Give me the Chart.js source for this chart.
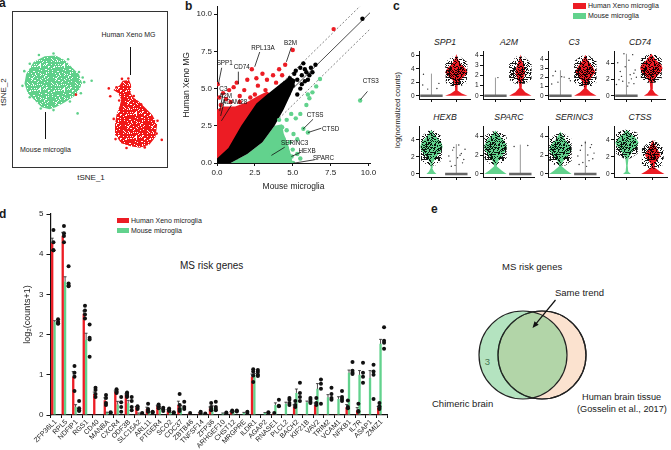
<!DOCTYPE html>
<html>
<head>
<meta charset="utf-8">
<script src="https://cdn.jsdelivr.net/npm/chart.js@4.4.0/dist/chart.umd.min.js"></script>
<style>
body { margin: 0; background: #fff; }
#fig { position: relative; width: 671px; height: 450px; overflow: hidden; font-family: 'Liberation Sans', Arial, sans-serif; color: #1a1a1a; }
.t { position: absolute; white-space: nowrap; line-height: 1; }
.c { transform: translate(-50%, -50%); }
.v { transform: translate(-50%, -50%) rotate(-90deg); }
.L { font-weight: bold; font-size: 12px; }
.i { font-style: italic; font-size: 8.7px; }
.ln { position: absolute; background: #111; }
.sw { position: absolute; }
canvas { position: absolute; }
</style>
</head>
<body>
<div id="fig">
  <!-- panel letters -->
  <div class="t L" style="left:-1px;top:-3px">a</div>
  <div class="t L" style="left:185px;top:0px">b</div>
  <div class="t L" style="left:393px;top:0px">c</div>
  <div class="t L" style="left:-1px;top:208px">d</div>
  <div class="t L" style="left:431px;top:203px">e</div>

  <!-- panel a -->
  <div style="position:absolute;left:12px;top:11px;width:154px;height:155px;border:1.3px solid #333"></div>
  <div class="t v" style="left:4px;top:92px;font-size:8px">tSNE_2</div>
  <div class="t c" style="left:91px;top:177.5px;font-size:8px">tSNE_1</div>
  <div class="t c" style="left:128.5px;top:33.5px;font-size:7px">Human Xeno MG</div>
  <div class="ln" style="left:130px;top:47px;width:1.4px;height:28px"></div>
  <div class="t c" style="left:45.5px;top:148.5px;font-size:7px">Mouse microglia</div>
  <div class="ln" style="left:44.5px;top:112px;width:1.4px;height:27px"></div>

  <!-- panel c -->
  <div class="sw" style="left:573px;top:3px;width:13px;height:5.5px;background:#ec1c24"></div>
  <div class="t" style="left:588px;top:2.3px;font-size:7px">Human Xeno microglia</div>
  <div class="sw" style="left:573px;top:13px;width:13px;height:5.5px;background:#62d28d"></div>
  <div class="t" style="left:588px;top:12.3px;font-size:7px">Mouse microglia</div>
  <div class="t v" style="left:398px;top:110px;font-size:7.5px">log(normalized counts)</div>
  <div class="t c i" style="left:445px;top:42px">SPP1</div>
  <div class="t c i" style="left:509px;top:42px">A2M</div>
  <div class="t c i" style="left:574px;top:42px">C3</div>
  <div class="t c i" style="left:640px;top:42px">CD74</div>
  <div class="t c i" style="left:445px;top:117px">HEXB</div>
  <div class="t c i" style="left:509px;top:117px">SPARC</div>
  <div class="t c i" style="left:574px;top:117px">SERINC3</div>
  <div class="t c i" style="left:640px;top:117px">CTSS</div>

  <!-- panel d -->
  <div class="sw" style="left:117px;top:218px;width:11.5px;height:5px;background:#ec1c24"></div>
  <div class="t" style="left:131px;top:217px;font-size:7px">Human Xeno microglia</div>
  <div class="sw" style="left:117px;top:228px;width:11.5px;height:5px;background:#62d28d"></div>
  <div class="t" style="left:131px;top:227px;font-size:7px">Mouse microglia</div>
  <div class="t" style="left:180px;top:261px;font-size:10px">MS risk genes</div>

  <!-- panel e -->
  <div class="t" style="left:502px;top:261.5px;font-size:9.5px">MS risk genes</div>
  <div class="t" style="left:555px;top:288px;font-size:9.5px">Same trend</div>
  <div class="t c" style="left:487.5px;top:361.5px;font-size:9.5px">3</div>
  <div class="t c" style="left:535px;top:358.5px;font-size:9.5px">29</div>
  <div class="t c" style="left:576.5px;top:357.5px;font-size:9.5px">3</div>
  <div class="t" style="left:432px;top:399px;font-size:9.5px">Chimeric brain</div>
  <div class="t" style="left:582px;top:393px;font-size:9.2px">Human brain tissue</div>
  <div class="t" style="left:577px;top:404.5px;font-size:9.2px">(Gosselin et al., 2017)</div>
</div>

<script>
// ---------- panel a: tSNE cluster outlines and stray cells ----------
const mouseCluster = [[-35,8.3],[-30.8,15.1],[-24.8,18.1],[-18.8,18.5],[-13.7,15.9],[-9.4,11.6],[-6,8.3],[-4.3,3.2],[-6,-0.3],[-8.6,-3.7],[-13.7,-7],[-18.8,-9.6],[-22.2,-10.8],[-26.5,-9.6],[-30.8,-5.4],[-34.2,-1.9],[-35.9,3.2],[-35,8.3]];
const humanCluster = [[17.9,4.8],[21.4,5.2],[22.6,2.3],[22.2,-1.9],[23.9,-4.5],[26.5,-6.2],[30.8,-10.5],[34.2,-13.9],[36.8,-19],[35.9,-25.8],[32.5,-30],[27.3,-31.7],[22.2,-30.9],[17.1,-29.2],[14,-24.9],[13.7,-19],[14.5,-13.9],[16.3,-8.8],[17.1,-5.4],[15.4,-1.9],[12.8,-0.3],[16.3,2.3],[17.9,4.8]];
const mouseCells = [[-36,10],[-33,14],[-28,18.8],[-20,19.6],[-12,16.5],[-6,9.5],[-3.2,4],[-5,-2],[-11,-6.5],[-20,-11.2],[-27,-10.3],[-33,-4.2],[-37,2],[0.9,4.8],[-6.8,-13],[-4,6.5]];
const humanCells = [[17.5,5.8],[21,6],[14.5,1.2],[10.3,0.6],[11.1,-3.7],[39.3,-27.4],[37,-17],[36.5,-24],[30,-31.5],[20,-31.8],[14,-27],[13,-16],[16,-6],[-7.7,-2.8],[24,-3.5],[28,-8]];

// ---------- panel b: Human Xeno MG vs mouse microglia ----------
const diag = [0, 10.5];
const foldBand = 1.1;
const bRedCloud = [[0,0],[0,3.6],[0.4,3.8],[1.2,3.8],[2,4.1],[2.7,4.5],[3.3,4.8],[3.6,4.6],[2,2.5],[0,0]];
const bBlackCloud = [[0,0],[0,0.3],[0.75,1],[1.6,2.5],[2.6,4],[3.3,4.6],[3.8,5],[4.4,5.5],[4.8,5.8],[5.2,5.6],[5,4.9],[4.4,3.6],[3.8,2.5],[3,1.4],[2,0.6],[0.9,0],[0,0]];
const bGreenCloud = [[0.9,0],[2,0.6],[3,1.4],[3.8,2.5],[4.3,2.6],[4.4,2],[4.7,1.2],[4.9,0.5],[5,0],[0.9,0]];
const bRed = [[7.7,9],[5,7.6],[4.5,6.6],[2.3,6.3],[0.05,5.3],[1.3,5.4],[1.1,5.1],[0.8,4.9],[0.4,4.7],[0.15,4.4],[0.6,4.3],[2.6,5.7],[2.7,5.2],[2.5,4.6],[1.8,4.9],[1.5,4.5],[3.3,5.6],[3.7,5.9],[4.1,6.3],[4.3,5.9],[3.9,5.4],[3.2,4.9],[2.2,4.4],[0.9,4.1],[2,5.6],[3,6],[0.25,3.9],[1.5,4.1]];
const bBlack = [[9.6,9.7],[6.5,6.6],[6.2,6.4],[5.9,6.1],[5.6,5.9],[5.3,5.6],[5.8,5.5],[6.1,5.9],[5,5.2],[4.8,5.7],[4.6,5.3],[5.2,6.2],[5.5,6.4],[5.7,6.7],[5.1,6],[5.6,5.3],[6,5.6],[5.5,5],[5.3,4.6],[4.2,5],[3.6,4.1],[4,3.9],[4.7,4.6],[5.8,6.3],[6.3,6.1]];
const bGreen = [[9.45,4.2],[5.05,1.95],[5.7,2.3],[6,2.05],[6.8,5.65],[6.55,5.15],[6.3,4.75],[6.1,4.35],[5.9,3.9],[5.5,3.3],[5.2,3],[4.6,2.9],[4.3,2.4],[4.8,1.4],[5,0.9],[5.3,0.6],[4.93,0.44],[5.02,0],[4.4,1.6],[4.6,2.2],[4.1,2.9],[3.59,0.51],[4.2,0.9],[4.6,1],[4.9,3.3],[6,4.6],[5.3,1.6],[5.5,0.3]];
const bLabelText = ['SPP1','CD74','RPL13A','B2M','C3','A2M','ADAM28','CTSS','CTSD','SERINC3','HEXB','SPARC','CTS3'];
// text x, text y, leader from x,y to x,y
const bLabelPos = [
  [0.51,6.73,0.31,6.4,0.09,5.3],[1.63,6.42,1.41,6.14,1.41,5.3],[3.04,7.68,2.82,7.46,2.49,6.47],[4.85,8.06,4.91,7.79,4.58,6.8],
  [0.42,4.97,0.4,4.7,0.18,3.49],[0.56,4.48,0.51,4.26,0.24,3.16],[1.16,4.09,0.95,3.89,0.29,2.83],[6.48,3.2,6.34,2.94,5.68,2.28],
  [7.5,2.28,6.89,2.34,6.01,2.05],[5.13,1.35,4.47,1.06,3.59,0.51],[5.95,0.77,5.57,0.73,4.91,0.44],[7.03,0.29,6.45,0.22,5.02,-0.02],
  [9.62,5.48,9.93,4.81,9.47,4.26]
];

// ---------- panel c: violins, profile = [value, half width] ----------
const vGenes = ['SPP1','A2M','C3','CD74','HEXB','SPARC','SERINC3','CTSS'];
const vMin = [-0.47,-0.32,-0.35,-0.4,-0.36,-0.33,-0.33,-0.36];
const vMax = [6.6,4.4,4.87,5.5,5.58,5.03,5.03,5.58];
const vStep = [2,1,1,1,1,1,1,1];
const violinHuman = {
  SPP1: [[0,0.45],[0.35,0.22],[0.8,0.05],[1.5,0.05],[2.2,0.12],[2.9,0.32],[3.5,0.45],[4.1,0.36],[4.8,0.16],[5.6,0.05],[6.2,0]],
  A2M: [[0,0.45],[0.35,0.2],[0.8,0.04],[1.3,0.06],[1.8,0.14],[2.3,0.2],[2.9,0.15],[3.5,0.06],[4.1,0]],
  C3: [[0,0.45],[0.35,0.22],[0.8,0.05],[1.4,0.08],[2,0.25],[2.6,0.4],[3.2,0.3],[3.9,0.1],[4.5,0]],
  CD74: [[0,0.3],[0.3,0.15],[0.8,0.04],[1.6,0.06],[2.4,0.22],[3,0.4],[3.4,0.45],[3.8,0.4],[4.4,0.2],[5,0.05],[5.2,0]],
  CTSS: [[0,0.45],[0.35,0.25],[0.8,0.05],[1.2,0.08],[1.7,0.2],[2.2,0.3],[2.7,0.22],[3.3,0.1],[3.9,0.02],[4,0]]
};
const cloudHuman = {
  SPP1: [[1.4,0.15],[1.9,0.42],[5,0.45],[5.8,0.15]],
  A2M: [[1.2,0.2],[1.6,0.45],[3.2,0.45],[3.9,0.15]],
  C3: [[1,0.2],[1.5,0.45],[3.8,0.45],[4.4,0.15]],
  CD74: [[1.6,0.15],[2.2,0.42],[4.6,0.42],[5.2,0.1]],
  CTSS: [[0.6,0.15],[1.1,0.42],[3,0.42],[3.9,0.1]]
};
const violinMouse = {
  HEXB: [[0,0.2],[0.3,0.1],[0.7,0.03],[1.3,0.05],[2,0.2],[2.7,0.4],[3.2,0.45],[3.7,0.4],[4.3,0.22],[4.9,0.06],[5.2,0]],
  SPARC: [[0,0.45],[0.35,0.25],[0.8,0.05],[1.3,0.1],[2,0.3],[2.6,0.44],[3,0.45],[3.5,0.35],[4.1,0.15],[4.6,0]],
  SERINC3: [[0,0.45],[0.35,0.25],[0.8,0.05],[1.3,0.1],[1.9,0.3],[2.5,0.45],[3,0.4],[3.6,0.2],[4.2,0.06],[4.5,0]],
  CTSS: [[0,0.15],[0.3,0.05],[1,0.03],[1.8,0.06],[2.6,0.2],[3.3,0.4],[3.7,0.45],[4.2,0.35],[4.8,0.12],[5.2,0]]
};
const cloudMouse = {
  HEXB: [[1,0.15],[1.6,0.42],[4.4,0.42],[5.1,0.1]],
  SPARC: [[1,0.2],[1.6,0.45],[4,0.45],[4.5,0.12]],
  SERINC3: [[0.9,0.2],[1.4,0.45],[3.7,0.45],[4.3,0.12]],
  CTSS: [[1.8,0.12],[2.4,0.42],[4.8,0.42],[5.2,0.1]]
};
const stemMouse = { SPP1: 3.3, A2M: 1.8, C3: 2.8, CD74: 5.2 };
const stemHuman = { HEXB: 3.5, SPARC: 3.1, SERINC3: 3.5 };
const strayMouse = {
  SPP1: [[-0.32,3.2],[0.22,1.1],[-0.15,1],[0.3,1.85],[-0.35,1.6]],
  A2M: [[0.1,1.8]],
  C3: [[-0.3,2.2],[0.15,2.05],[-0.2,2.7],[0.35,1.9],[-0.35,1.3],[0.4,1.65],[0.05,2.1],[-0.1,1.5]],
  CD74: [[-0.35,4.1],[-0.25,3],[-0.3,2],[-0.15,1.8],[0.1,1.6],[0.2,2.1],[0.3,1.5],[0.1,4.4],[0.25,5.1],[-0.1,5.2],[0.35,3.2],[-0.4,1.4],[0.15,2.6],[-0.2,2.4],[0.05,1.2],[0.3,2.8],[-0.05,3.6],[0.4,2.3]]
};
const strayHuman = {
  HEXB: [[0.7,2.1],[0.75,1.5],[0.85,2.8],[0.95,1],[1.1,3.4],[1.2,2.4],[1.3,1.7],[1.35,2.9],[1.05,1.9],[0.8,0.9],[1.25,1.3],[0.9,3.1],[1.15,2.2]],
  SPARC: [[1.3,3],[0.75,2.9]],
  SERINC3: [[0.7,1.9],[0.8,2.5],[0.9,1.2],[1,3.3],[1.1,2],[1.2,2.8],[1.3,1.6],[1.35,2.2],[0.75,1],[1.05,0.8],[1.25,3.1],[0.85,3],[1.15,1.4]]
};

// ---------- panel d: MS risk genes ----------
const genes = ['ZFP36L1','RPL5','NDFIP1','RGS1','CD40','MANBA','CXCR4','ODF3B','SLC15A2','ARL11','PTGER4','SCO2','CDC37','ZBTB46','TNFSF14','ZFP36','ARHGEF10','CHST12','MRGPRE','ILDR1','AGAP2','RNASE1','PLCL2','BACH2','KIF21B','VAV2','TRIM2','VCAM1','NFKB1','IL7R','ASAP1','ZMIZ1'];
const humanMean = [4.28,4.46,0.95,2.52,0.52,0.37,0.58,0.5,0.19,0.15,0.22,0.12,0.25,0.04,0.04,0.16,0.01,0.07,0.01,0.95,0.01,0.03,0.02,0.21,0.02,0.25,0.02,0.02,0.2,0.12,0.02,0.18];
const mouseMean = [2.32,3.32,0.2,1.87,0.01,0.06,0.26,0.29,0.04,0.07,0.14,0.06,0.18,0.01,0.03,0.18,0.04,0.08,0.05,1,0.05,0.25,0.28,0.55,0.32,0.65,0.44,0.4,1.05,1,0.92,1.77];
const humanReps = [[4.6,4.3,4.1,4.1],[4.7,4.52,4.45,4.3],[1.22,1.05,0.95,0.6],[2.72,2.6,2.5,2.4],[0.68,0.62,0.52,0.45],[0.5,0.42,0.3,0.25],[0.64,0.6,0.57,0.55],[0.56,0.52,0.48,0.45],[0.22,0.18,0.15],[0.28,0.15,0.1,0.08],[0.26,0.22,0.2,0.17],[0.16,0.12,0.1],[0.52,0.25,0.15,0.1],[0.05],[0.08,0.04],[0.3,0.2,0.15,0.12],[],[0.11,0.08],[],[1.14,1.08,0.98,0.82],[],[0.05],[],[0.35,0.25,0.2],[],[0.42,0.3,0.25],[],[],[0.36,0.2,0.17],[0.28,0.1,0.08],[],[0.3,0.22,0.18,0.15]];
const mouseReps = [[2.38,2.32,2.28,2.27],[3.7,3.27,3.22,3.2],[0.35,0.17,0.12,0.1],[2.25,1.92,1.88,1.45],[],[0.07,0.05],[0.45,0.32,0.2,0.08],[0.45,0.35,0.2,0.12],[0.05,0.03],[0.08,0.06],[0.18,0.14,0.1],[0.07,0.05],[0.33,0.2,0.15],[],[0.04],[0.33,0.2,0.15,0.12],[0.06,0.04],[0.11,0.09],[0.08,0.05],[1.12,1.07,1,0.97],[0.07,0.05],[0.38,0.23,0.22],[0.42,0.38,0.3,0.25],[0.8,0.55,0.45,0.35],[0.42,0.38,0.33,0.3],[0.88,0.78,0.65,0.28],[0.68,0.52,0.42,0.38],[0.6,0.45,0.4,0.35],[1.32,1.1,1.05,1.02],[1.3,1.05,0.95,0.8],[1.25,1.08,1,0.4],[2.18,1.85,1.8,1.65]];

// ---------- panel e: Venn ----------
const vennCircles = [{x: 0.2, y: 0, r: 44}, {x: -0.18, y: 0, r: 44}];
const vennArrow = [[0.47, 1.1], [0.01, 0.54]];

// ---------- shared setup ----------
const RED = '#ec1c24';
const GREEN = '#62d28d';
const PEACH = '#fbe2cf';
Chart.defaults.font.family = "'Liberation Sans', Arial, sans-serif";
Chart.defaults.color = '#1a1a1a';
Chart.defaults.animation = false;
Chart.defaults.responsive = false;
Chart.defaults.events = [];
Chart.defaults.plugins.legend.display = false;
Chart.defaults.plugins.tooltip.enabled = false;

const fig = document.getElementById('fig');
function makeCanvas(left, top, w, h) {
    const c = document.createElement('canvas');
    c.width = w; c.height = h;
    c.style.left = left + 'px'; c.style.top = top + 'px';
    c.style.width = w + 'px'; c.style.height = h + 'px';
    fig.appendChild(c);
    return c.getContext('2d');
}
// fixed pixel hash, only used for the grain texture of dense point clouds
function grain(x, y) {
    let h = Math.imul(x, 374761393) + Math.imul(y, 668265263);
    h = Math.imul(h ^ (h >>> 13), 1274126177);
    return ((h ^ (h >>> 16)) >>> 0) / 4294967296;
}
function speckle(size, fg, bg, density) {
    const c = document.createElement('canvas');
    c.width = c.height = size;
    const g = c.getContext('2d');
    if (bg) { g.fillStyle = bg; g.fillRect(0, 0, size, size); }
    g.fillStyle = fg;
    for (let y = 0; y < size; y++) {
        for (let x = 0; x < size; x++) {
            if (grain(x, y) < density) g.fillRect(x, y, 1, 1);
        }
    }
    return g.createPattern(c, 'repeat');
}

const pts = arr => arr.map(([x, y]) => ({x, y}));
function shape(points, color, order) {
    return {type: 'scatter', data: pts(points), showLine: true, fill: 'shape', backgroundColor: color,
        borderColor: 'rgba(0,0,0,0)', borderWidth: 0, pointRadius: 0, order};
}
function dots(points, color, r, order) {
    return {type: 'scatter', data: pts(points), backgroundColor: color, borderWidth: 0, pointRadius: r, order};
}
function line(points, color, w, dash, order) {
    return {type: 'scatter', data: pts(points), showLine: true, fill: false, borderColor: color,
        borderWidth: w, borderDash: dash, pointRadius: 0, order};
}
// mirror a violin profile round its centre
function mirror(cx, prof) {
    return [...prof.map(([y, w]) => [cx + w, y]), ...prof.slice().reverse().map(([y, w]) => [cx - w, y])];
}
const axisStyle = {grid: {drawOnChartArea: false, tickLength: 3, color: '#111'}, border: {color: '#111', width: 1}};

// ---------- panel a ----------
new Chart(makeCanvas(13, 12, 154, 155), {
    type: 'scatter',
    data: {datasets: [
        shape(mouseCluster, speckle(24, '#fff', '#5fd08a', 0.16), 5),
        shape(humanCluster, speckle(24, '#fff', '#f01818', 0.16), 5),
        dots(mouseCells, '#5fd08a', 1.3, 1),
        dots(humanCells, '#f01818', 1.3, 1)
    ]},
    options: {
        layout: {padding: 0},
        scales: {x: {display: false, min: -40, max: 40}, y: {display: false, min: -40, max: 40}}
    }
});

// ---------- panel b ----------
const bLabels = {
    id: 'bLabels',
    afterDatasetsDraw(chart) {
        const {ctx: g, scales: {x, y}} = chart;
        g.save();
        g.font = "6.3px 'Liberation Sans', Arial, sans-serif";
        g.fillStyle = '#111'; g.strokeStyle = '#111'; g.lineWidth = 0.8;
        g.textBaseline = 'middle';
        bLabelText.forEach((t, i) => {
            const [tx, ty, x1, y1, x2, y2] = bLabelPos[i];
            g.textAlign = t === 'CTS3' ? 'left' : 'center';
            g.fillText(t, x.getPixelForValue(tx), y.getPixelForValue(ty));
            g.beginPath();
            g.moveTo(x.getPixelForValue(x1), y.getPixelForValue(y1));
            g.lineTo(x.getPixelForValue(x2), y.getPixelForValue(y2));
            g.stroke();
        });
        g.restore();
    }
};
new Chart(makeCanvas(182, 0, 203, 192), {
    type: 'scatter',
    data: {datasets: [
        line(diag.map(v => [v, v]), '#222', 0.8, [], 10),
        line(diag.map(v => [v, v + foldBand]), '#666', 0.8, [2, 2], 10),
        line(diag.map(v => [v + foldBand, v]), '#666', 0.8, [2, 2], 10),
        shape(bRedCloud, RED, 9),
        shape(bGreenCloud, GREEN, 8),
        shape(bBlackCloud, '#000', 7),
        dots(bRed, RED, 2.2, 3),
        dots(bGreen, GREEN, 2.2, 3),
        dots(bBlack, '#000', 2.2, 2)
    ]},
    options: {
        layout: {padding: {top: 4, right: 15}},
        scales: {
            x: {...axisStyle, min: 0, max: 10.1,
                ticks: {stepSize: 2.5, includeBounds: false, callback: v => v.toFixed(1), font: {size: 8}, padding: 2},
                title: {display: true, text: 'Mouse microglia', font: {size: 8.5}, padding: {top: 2, bottom: 0}},
                afterFit: s => { s.height = 29; }},
            y: {...axisStyle, min: 0, max: 10.5,
                ticks: {stepSize: 2.5, includeBounds: false, callback: v => v.toFixed(1), font: {size: 8}, padding: 2},
                title: {display: true, text: 'Human Xeno MG', font: {size: 8.5}, padding: {top: 0, bottom: 0}},
                afterFit: s => { s.width = 35; }}
        }
    },
    plugins: [bLabels]
});

// ---------- panel c ----------
const JITTER = speckle(32, 'rgba(0,0,0,0.9)', null, 0.4);
const axisX = [419, 483, 548, 614, 419, 483, 548, 614];
const rowTop = [48, 123];
const rowBottom = [99, 177];
function zeroGroup(cx, stem, stray, ds) {
    ds.push(line([[cx - 0.45, 0], [cx + 0.45, 0]], '#666', 2.5, [], 6));
    ds.push(line([[cx, 0], [cx, stem]], '#999', 1, [], 6));
    ds.push(dots(stray, '#333', 0.7, 3));
}
vGenes.forEach((gene, k) => {
    const row = k < 4 ? 0 : 1;
    const h = rowBottom[row] - rowTop[row];
    const ds = [];
    if (violinMouse[gene]) {
        ds.push(shape(mirror(0, violinMouse[gene]), GREEN, 5));
        ds.push(shape(mirror(0, cloudMouse[gene]), JITTER, 4));
    } else {
        zeroGroup(0, stemMouse[gene], strayMouse[gene], ds);
    }
    if (violinHuman[gene]) {
        ds.push(shape(mirror(1, violinHuman[gene]), RED, 5));
        ds.push(shape(mirror(1, cloudHuman[gene]), JITTER, 4));
    } else {
        zeroGroup(1, stemHuman[gene], strayHuman[gene], ds);
    }
    new Chart(makeCanvas(axisX[k] - 16, rowTop[row] - 2, 71, h + 8), {
        type: 'scatter',
        data: {datasets: ds},
        options: {
            layout: {padding: {top: 2, right: 2}},
            scales: {
                x: {...axisStyle, min: -0.5, max: 1.55,
                    ticks: {stepSize: 1, includeBounds: false, callback: () => '', font: {size: 2}, padding: 0},
                    afterFit: s => { s.height = 6; }},
                y: {...axisStyle, min: vMin[k], max: vMax[k],
                    ticks: {stepSize: vStep[k], includeBounds: false, font: {size: 6.5}, padding: 1.5},
                    afterFit: s => { s.width = 16; }}
            }
        }
    });
});

// ---------- panel d ----------
const repPoints = (reps, shift) => reps.flatMap((r, i) => r.map(v => ({x: i + shift, y: v})));
const errorBars = {
    id: 'errorBars',
    afterDatasetsDraw(chart) {
        const g = chart.ctx, y = chart.scales.y;
        [humanReps, mouseReps].forEach((reps, di) => {
            chart.getDatasetMeta(di).data.forEach((bar, i) => {
                const r = reps[i];
                if (r.length < 2) return;
                const m = r.reduce((a, b) => a + b, 0) / r.length;
                const sd = Math.sqrt(r.reduce((a, b) => a + (b - m) ** 2, 0) / (r.length - 1));
                const v = chart.data.datasets[di].data[i];
                const y0 = y.getPixelForValue(v), y1 = y.getPixelForValue(v + sd / Math.sqrt(r.length));
                g.save();
                g.strokeStyle = '#222'; g.lineWidth = 0.8;
                g.beginPath();
                g.moveTo(bar.x, y0); g.lineTo(bar.x, y1);
                g.moveTo(bar.x - 1.5, y1); g.lineTo(bar.x + 1.5, y1);
                g.stroke();
                g.restore();
            });
        });
    }
};
new Chart(makeCanvas(22, 205, 370, 245), {
    type: 'bar',
    data: {
        labels: genes,
        datasets: [
            {label: 'Human Xeno microglia', data: humanMean, backgroundColor: RED, categoryPercentage: 0.9, barPercentage: 0.98, order: 2},
            {label: 'Mouse microglia', data: mouseMean, backgroundColor: GREEN, categoryPercentage: 0.9, barPercentage: 0.98, order: 2},
            {type: 'scatter', xAxisID: 'xd', data: repPoints(humanReps, -0.22).concat(repPoints(mouseReps, 0.22)),
                backgroundColor: '#111', borderWidth: 0, pointRadius: 2, order: 1}
        ]
    },
    options: {
        layout: {padding: {top: 9, right: 5}},
        scales: {
            x: {...axisStyle, border: {color: '#111', width: 1.2},
                ticks: {font: {size: 7}, minRotation: 45, maxRotation: 45, padding: 0, autoSkip: false},
                afterFit: s => { s.height = 35; }},
            xd: {type: 'linear', display: false, offset: false, grid: {offset: false},
                min: -0.5, max: genes.length - 0.5},
            y: {...axisStyle, border: {color: '#111', width: 1.2}, min: 0, max: 5,
                grid: {drawOnChartArea: false, tickLength: 4, color: '#111'},
                ticks: {stepSize: 1, font: {size: 8}, padding: 3},
                title: {display: true, text: 'log₂(counts+1)', font: {size: 9}, padding: 0},
                afterFit: s => { s.width = 28.5; }}
        }
    },
    plugins: [errorBars]
});

// ---------- panel e ----------
const arrowPlugin = {
    id: 'arrow',
    afterDatasetsDraw(chart) {
        const {ctx: g, scales: {x, y}} = chart;
        const [x1, y1] = [x.getPixelForValue(vennArrow[0][0]), y.getPixelForValue(vennArrow[0][1])];
        const [x2, y2] = [x.getPixelForValue(vennArrow[1][0]), y.getPixelForValue(vennArrow[1][1])];
        const a = Math.atan2(y2 - y1, x2 - x1);
        g.save();
        g.strokeStyle = '#111'; g.fillStyle = '#111'; g.lineWidth = 1.2;
        g.beginPath(); g.moveTo(x1, y1); g.lineTo(x2 - 4 * Math.cos(a), y2 - 4 * Math.sin(a)); g.stroke();
        g.beginPath();
        g.moveTo(x2, y2);
        g.lineTo(x2 - 7 * Math.cos(a - 0.4), y2 - 7 * Math.sin(a - 0.4));
        g.lineTo(x2 - 7 * Math.cos(a + 0.4), y2 - 7 * Math.sin(a + 0.4));
        g.closePath(); g.fill();
        g.restore();
    }
};
new Chart(makeCanvas(432, 290, 200, 130), {
    type: 'bubble',
    data: {datasets: [
        {data: [vennCircles[0]], backgroundColor: PEACH, borderColor: '#222', borderWidth: 1.2, clip: false, order: 3},
        {data: [vennCircles[1]], backgroundColor: 'rgba(105,200,130,0.5)', borderColor: '#222', borderWidth: 1.2, clip: false, order: 2},
        {data: [vennCircles[0]], backgroundColor: 'rgba(0,0,0,0)', borderColor: '#222', borderWidth: 1.2, clip: false, order: 1}
    ]},
    options: {
        layout: {padding: 0, autoPadding: false},
        scales: {x: {display: false, min: -2, max: 2}, y: {display: false, min: -1.3, max: 1.3}}
    },
    plugins: [arrowPlugin]
});
</script>
</body>
</html>
